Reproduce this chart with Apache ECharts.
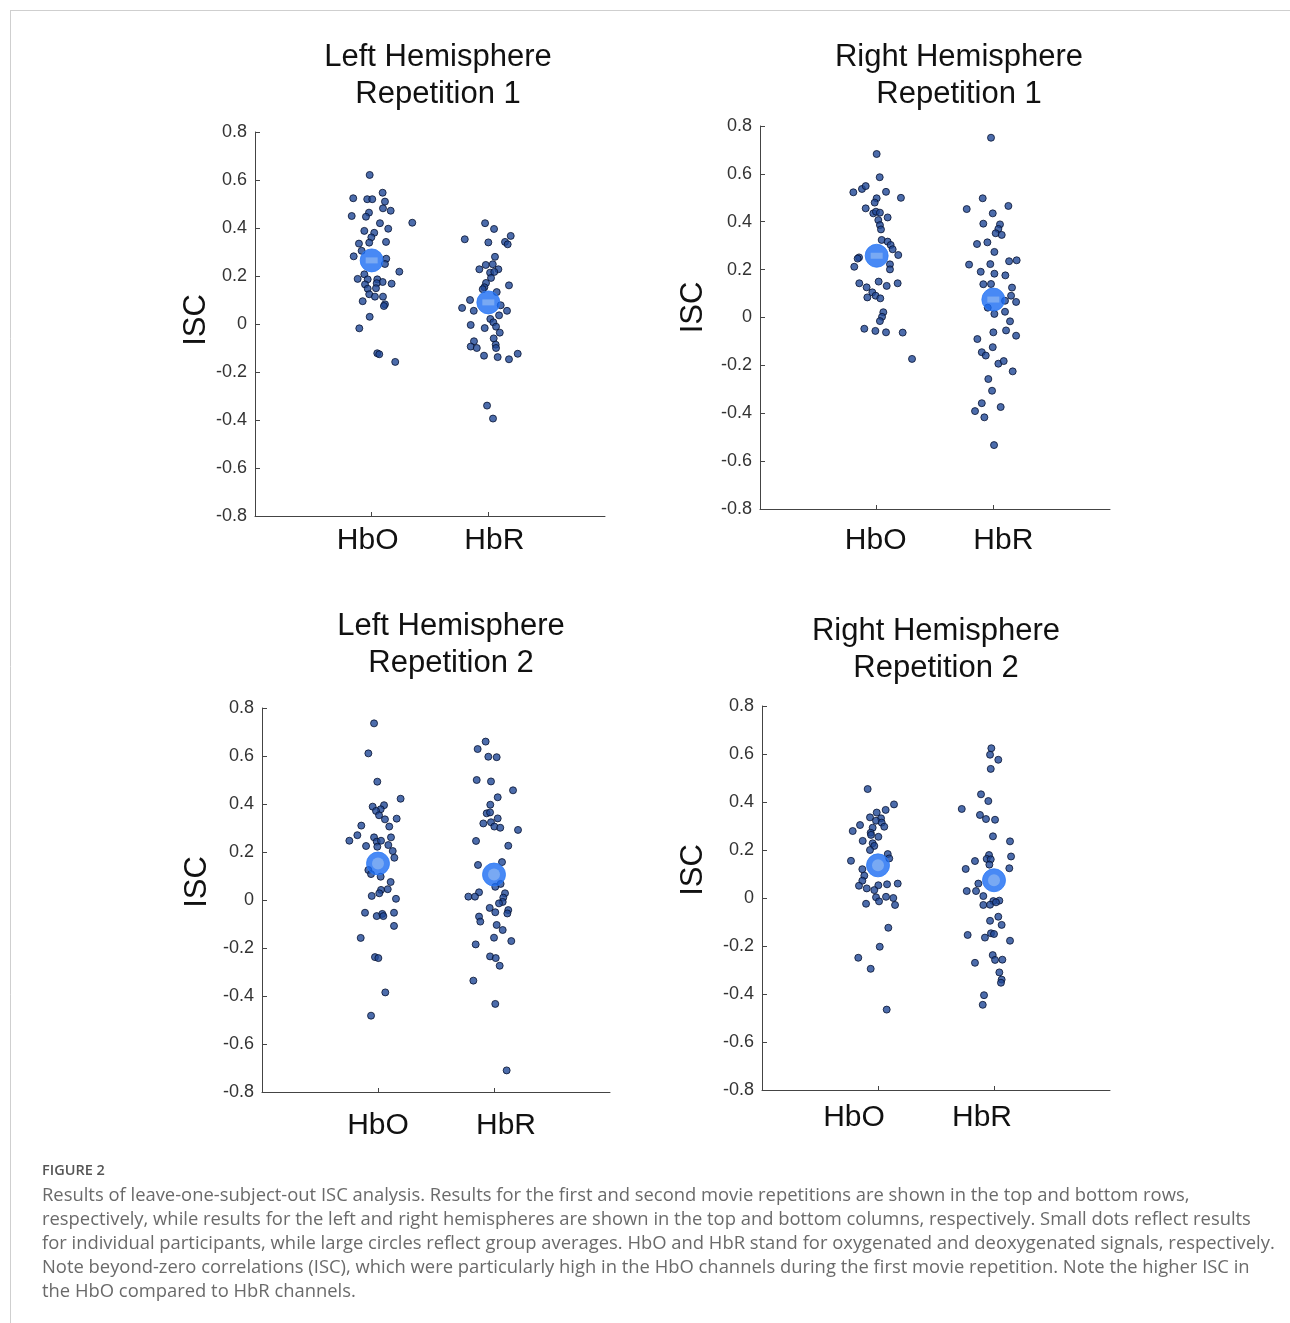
<!DOCTYPE html>
<html>
<head>
<meta charset="utf-8">
<script src="https://cdn.jsdelivr.net/npm/echarts@6/dist/echarts.min.js"></script>
<style>
html,body{margin:0;padding:0;background:#fff;}
#chart{width:1290px;height:1323px;}
</style>
</head>
<body>
<div id="chart"></div>
<script>
// ---------- DATA ----------
const categories = ['HbO', 'HbR'];
const yTicks = [-0.8, -0.6, -0.4, -0.2, 0, 0.2, 0.4, 0.6, 0.8];
const panelTitles = [
  'Left Hemisphere\nRepetition 1',
  'Right Hemisphere\nRepetition 1',
  'Left Hemisphere\nRepetition 2',
  'Right Hemisphere\nRepetition 2'
];
// individual participants: [x position (category 1/2 + jitter), ISC]
const lh1HbO = [[0.983,0.621],[1.094,0.547],[0.842,0.524],[0.962,0.52],[1.005,0.52],[1.114,0.51],[1.097,0.482],[1.163,0.472],[0.829,0.45],[0.977,0.464],[0.951,0.447],[1.348,0.422],[1.071,0.42],[1.142,0.397],[0.937,0.388],[1.022,0.38],[0.997,0.361],[1.123,0.342],[0.891,0.335],[0.979,0.339],[0.914,0.305],[0.846,0.282],[1.125,0.272],[1.114,0.25],[1.237,0.218],[0.937,0.207],[0.88,0.188],[0.966,0.186],[1.048,0.186],[1.094,0.175],[1.171,0.168],[0.943,0.165],[1.043,0.17],[0.966,0.147],[1.037,0.149],[0.979,0.124],[1.028,0.114],[1.097,0.114],[0.923,0.095],[1.114,0.082],[1.105,0.075],[0.983,0.03],[0.894,-0.018],[1.048,-0.122],[1.065,-0.126],[1.202,-0.158]];
const lh1HbR = [[1.972,0.42],[2.049,0.396],[1.798,0.353],[2.0,0.34],[2.192,0.367],[2.143,0.342],[2.166,0.332],[2.057,0.28],[1.923,0.228],[1.978,0.246],[2.038,0.249],[2.086,0.228],[2.015,0.214],[2.051,0.217],[2.023,0.192],[2.177,0.161],[1.98,0.171],[1.966,0.153],[1.952,0.145],[2.072,0.133],[1.843,0.1],[1.775,0.067],[1.875,0.055],[2.106,0.078],[2.16,0.055],[2.092,0.036],[2.017,0.021],[2.043,0.007],[1.849,-0.004],[1.969,-0.017],[2.066,-0.011],[2.098,-0.036],[2.046,-0.06],[1.877,-0.072],[1.849,-0.094],[1.901,-0.1],[2.063,-0.086],[2.066,-0.1],[1.963,-0.132],[2.08,-0.138],[2.177,-0.147],[2.252,-0.124],[1.989,-0.34],[2.04,-0.394]];
const rh1HbO = [[1.0,0.683],[1.026,0.586],[0.8,0.523],[0.874,0.537],[0.906,0.549],[1.08,0.525],[1.208,0.5],[1.0,0.498],[0.983,0.48],[0.906,0.456],[0.971,0.435],[0.994,0.442],[1.028,0.438],[1.094,0.418],[1.014,0.407],[1.028,0.386],[1.037,0.368],[1.043,0.324],[1.094,0.317],[1.12,0.303],[1.137,0.285],[1.185,0.261],[0.849,0.251],[0.837,0.246],[0.808,0.212],[1.114,0.222],[1.114,0.201],[0.851,0.143],[1.017,0.15],[1.18,0.143],[0.914,0.126],[1.086,0.132],[0.963,0.105],[0.92,0.084],[0.991,0.091],[1.031,0.08],[1.057,0.022],[1.046,0.003],[1.028,-0.015],[0.894,-0.047],[0.989,-0.056],[1.08,-0.062],[1.223,-0.063],[1.303,-0.173]];
const rh1HbR = [[1.98,0.751],[1.909,0.498],[1.772,0.453],[2.129,0.466],[1.995,0.435],[1.914,0.392],[2.057,0.389],[2.043,0.37],[2.02,0.352],[2.072,0.345],[1.86,0.307],[1.949,0.314],[2.009,0.274],[1.792,0.221],[1.974,0.223],[2.135,0.235],[2.2,0.239],[1.892,0.191],[2.009,0.183],[2.103,0.176],[1.914,0.139],[1.98,0.14],[2.16,0.125],[2.152,0.091],[2.195,0.065],[2.1,0.07],[1.952,0.041],[2.009,0.015],[2.1,0.024],[2.143,-0.016],[2.0,-0.062],[2.109,-0.054],[2.195,-0.076],[1.863,-0.09],[1.901,-0.145],[1.935,-0.159],[1.995,-0.124],[2.043,-0.193],[2.089,-0.182],[2.166,-0.225],[1.957,-0.257],[1.989,-0.306],[1.901,-0.358],[2.063,-0.374],[1.843,-0.391],[1.923,-0.417],[2.006,-0.533]];
const lh2HbO = [[0.966,0.736],[0.917,0.611],[0.994,0.493],[1.195,0.422],[0.954,0.389],[1.052,0.395],[1.023,0.378],[0.983,0.371],[1.009,0.353],[1.06,0.336],[1.161,0.339],[0.856,0.31],[1.097,0.306],[0.822,0.27],[0.753,0.247],[0.966,0.261],[1.112,0.261],[0.989,0.243],[1.026,0.247],[0.897,0.225],[0.994,0.222],[1.089,0.229],[1.127,0.204],[1.141,0.176],[0.917,0.125],[0.94,0.108],[1.023,0.097],[1.109,0.075],[1.084,0.045],[1.026,0.042],[1.011,0.028],[0.946,0.017],[1.155,0.005],[0.888,-0.053],[0.989,-0.067],[1.037,-0.058],[1.046,-0.067],[1.138,-0.053],[1.138,-0.108],[0.851,-0.158],[0.974,-0.238],[1.003,-0.242],[1.063,-0.385],[0.94,-0.482]];
const lh2HbR = [[1.928,0.66],[1.859,0.629],[1.951,0.597],[2.023,0.595],[1.851,0.5],[1.974,0.494],[2.164,0.457],[2.032,0.428],[1.968,0.397],[1.937,0.361],[1.966,0.365],[2.032,0.34],[1.908,0.319],[1.974,0.324],[2.003,0.306],[2.054,0.301],[2.207,0.292],[1.845,0.246],[2.123,0.226],[1.862,0.146],[2.069,0.158],[2.011,0.055],[2.057,0.067],[1.871,0.032],[1.779,0.014],[1.836,0.014],[2.095,0.028],[2.08,0.01],[2.075,-0.008],[2.043,-0.014],[1.963,-0.033],[2.011,-0.051],[2.123,-0.042],[2.115,-0.056],[1.871,-0.069],[1.882,-0.09],[2.023,-0.104],[2.075,-0.125],[2.0,-0.157],[2.149,-0.171],[1.842,-0.185],[1.966,-0.235],[2.015,-0.242],[2.049,-0.274],[1.822,-0.336],[2.011,-0.433],[2.109,-0.71]];
const rh2HbO = [[0.911,0.454],[1.138,0.39],[1.066,0.367],[0.989,0.356],[0.931,0.336],[1.026,0.332],[0.983,0.322],[1.032,0.314],[0.845,0.304],[0.782,0.279],[0.954,0.293],[1.054,0.297],[0.937,0.272],[1.003,0.255],[0.94,0.263],[0.868,0.238],[0.954,0.228],[0.968,0.217],[0.931,0.2],[1.084,0.183],[1.097,0.165],[0.767,0.155],[0.865,0.12],[0.882,0.093],[0.865,0.072],[0.836,0.051],[0.903,0.04],[1.003,0.053],[1.078,0.057],[1.17,0.06],[0.968,0.033],[0.983,0.003],[1.009,-0.014],[1.069,0.005],[1.132,0.0],[1.147,-0.029],[0.897,-0.024],[1.089,-0.124],[1.015,-0.203],[0.83,-0.249],[0.937,-0.295],[1.075,-0.465]];
const rh2HbR = [[1.977,0.624],[1.966,0.597],[2.037,0.576],[1.972,0.538],[1.888,0.432],[1.951,0.404],[1.722,0.371],[1.879,0.346],[1.931,0.329],[2.009,0.326],[1.991,0.257],[2.138,0.236],[1.957,0.179],[2.147,0.173],[1.836,0.154],[1.937,0.163],[1.972,0.161],[1.96,0.139],[1.756,0.121],[2.132,0.124],[1.865,0.06],[1.765,0.029],[1.845,0.029],[1.908,0.008],[1.994,-0.013],[2.046,-0.011],[1.908,-0.029],[1.966,-0.028],[2.017,-0.018],[2.037,-0.078],[1.966,-0.095],[2.066,-0.112],[1.773,-0.154],[1.974,-0.147],[2.0,-0.15],[1.922,-0.165],[2.138,-0.178],[1.989,-0.238],[2.009,-0.258],[2.072,-0.257],[1.836,-0.27],[2.046,-0.31],[2.066,-0.34],[2.06,-0.353],[1.914,-0.405],[1.903,-0.445]];
// group averages [HbO, HbR]
const lh1Mean = [0.265, 0.09];
const rh1Mean = [0.258, 0.075];
const lh2Mean = [0.152, 0.106];
const rh2Mean = [0.136, 0.074];

const captionHead = 'FIGURE 2';
const captionLines = [
  'Results of leave-one-subject-out ISC analysis. Results for the first and second movie repetitions are shown in the top and bottom rows,',
  'respectively, while results for the left and right hemispheres are shown in the top and bottom columns, respectively. Small dots reflect results',
  'for individual participants, while large circles reflect group averages. HbO and HbR stand for oxygenated and deoxygenated signals, respectively.',
  'Note beyond-zero correlations (ISC), which were particularly high in the HbO channels during the first movie repetition. Note the higher ISC in',
  'the HbO compared to HbR channels.'
];

// ---------- LAYOUT ----------
const panels = [
  {dots:[lh1HbO, lh1HbR], mean: lh1Mean, grid:{left:255, top:132, width:350, height:384}, title:[438, 38.5], nameGap:42, namePad:8,  labMargin:10, shift:[-4, 6],  inner:'rect'},
  {dots:[rh1HbO, rh1HbR], mean: rh1Mean, grid:{left:760, top:126, width:350, height:383}, title:[959, 38.5], nameGap:51, namePad:20, labMargin:17, shift:[-1, 10], inner:'rect'},
  {dots:[lh2HbO, lh2HbR], mean: lh2Mean, grid:{left:262, top:708, width:348, height:384}, title:[451, 607.5], nameGap:49, namePad:36, labMargin:19, shift:[0, 12], inner:'circle'},
  {dots:[rh2HbO, rh2HbR], mean: rh2Mean, grid:{left:762, top:706, width:348, height:384}, title:[936, 612.5], nameGap:53, namePad:56, labMargin:13, shift:[-24, -12], inner:'circle'}
];

function pad(s){ return s < 0 ? [0, -2*s, 0, 0] : [0, 0, 0, 2*s]; }

const grids = [], xAxes = [], yAxes = [], series = [], titles = [];
panels.forEach((p, i) => {
  grids.push(Object.assign({containLabel:false}, p.grid));
  titles.push({
    text: panelTitles[i], left: p.title[0], top: p.title[1], textAlign: 'center', padding: 0,
    textStyle: {fontFamily:'Liberation Sans', fontSize:31, fontWeight:'normal', color:'#111', lineHeight:37}
  });
  xAxes.push({
    type:'value', gridIndex:i, min:0, max:3,
    splitLine:{show:false},
    axisLine:{show:true, onZero:false, lineStyle:{color:'#444', width:1}},
    axisTick:{show:true, inside:true, length:4, customValues:[1,2], lineStyle:{color:'#444'}},
    axisLabel:{
      customValues:[1,2], margin:p.labMargin,
      formatter: v => v === 1 ? '{a|' + categories[0] + '}' : '{b|' + categories[1] + '}',
      rich:{
        a:{fontFamily:'Liberation Sans', fontSize:30, color:'#111', padding:pad(p.shift[0])},
        b:{fontFamily:'Liberation Sans', fontSize:30, color:'#111', padding:pad(p.shift[1])}
      }
    }
  });
  yAxes.push({
    type:'value', gridIndex:i, min:yTicks[0], max:yTicks[yTicks.length-1], interval:0.2,
    splitLine:{show:false},
    axisLine:{show:true, onZero:false, lineStyle:{color:'#444', width:1}},
    axisTick:{show:true, inside:true, length:5, lineStyle:{color:'#444'}},
    axisLabel:{fontFamily:'Liberation Sans', fontSize:18, color:'#333', margin:8,
      formatter: v => String(Math.round(v*10)/10)},
    name:'ISC', nameLocation:'middle', nameRotate:90, nameGap:p.nameGap,
    nameTextStyle:{fontFamily:'Liberation Sans', fontSize:31, color:'#111', padding:[0,0,0,p.namePad]}
  });
  p.dots.forEach((d, k) => {
    series.push({
      type:'scatter', xAxisIndex:i, yAxisIndex:i, data:d, symbolSize:7,
      itemStyle:{color:'#1f4796', borderColor:'#061230', borderWidth:1}, z:2, silent:true
    });
  });
  const meanData = p.mean.map((m, k) => [k+1, m]);
  series.push({
    type:'scatter', xAxisIndex:i, yAxisIndex:i, data:meanData, symbolSize:23,
    itemStyle:{color:'#1a6cf2', borderColor:'#2f7cf5', borderWidth:1}, z:3, silent:true
  });
  series.push({
    type:'scatter', xAxisIndex:i, yAxisIndex:i, data:meanData,
    symbol: p.inner, symbolSize: p.inner === 'rect' ? [12,6] : 12,
    itemStyle:{color:'#86b2f2'}, z:4, silent:true
  });
});

const chart = echarts.init(document.getElementById('chart'), null, {renderer:'canvas'});
chart.setOption({
  backgroundColor:'#ffffff',
  animation:false,
  title: titles,
  grid: grids,
  xAxis: xAxes,
  yAxis: yAxes,
  series: series,
  graphic: [
    {type:'line', shape:{x1:10, y1:10.5, x2:1290, y2:10.5}, style:{stroke:'#cfcfcf', lineWidth:1}},
    {type:'line', shape:{x1:10.5, y1:10, x2:10.5, y2:1323}, style:{stroke:'#cfcfcf', lineWidth:1}},
    {type:'text', left:42, top:1163, style:{text:captionHead, fontFamily:'Open Sans', fontSize:14.5, fontWeight:600, fill:'#555'}},
    {type:'text', left:42, top:1184, style:{text:captionLines.join('\n'), fontFamily:'Open Sans', fontSize:18.4, lineHeight:24, fill:'#6a6a6a'}}
  ]
});
</script>
</body>
</html>
